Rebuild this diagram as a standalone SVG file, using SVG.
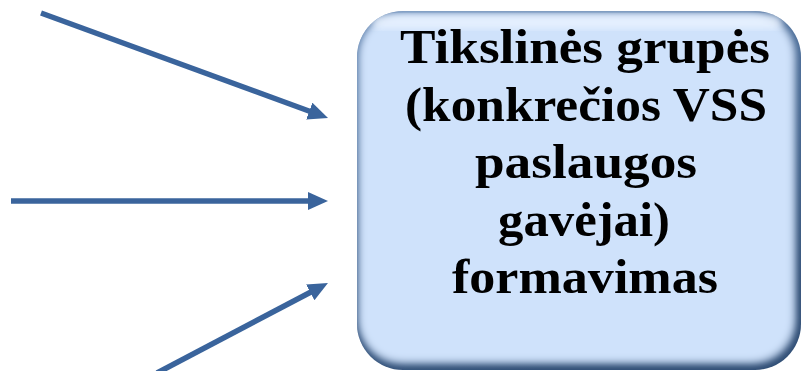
<svg xmlns="http://www.w3.org/2000/svg" width="802" height="371" viewBox="0 0 802 371">
  <style>
    .conn { stroke: #3a649c; stroke-width: 5.5; fill: none; }
    .label { font-family: "Liberation Serif", "DejaVu Serif", serif; font-weight: bold; font-size: 48px; fill: #000; text-anchor: middle; }
  </style>
  <defs>
    <!-- arrowhead: 20 long, 18 wide; line ends 16px before the tip -->
    <marker id="arrow" markerUnits="userSpaceOnUse" markerWidth="21" markerHeight="19" refX="4" refY="9" orient="auto">
      <path d="M0,0 L20,9 L0,18 Z" fill="#3a649c"/>
    </marker>
    <clipPath id="boxClip">
      <rect x="357" y="11" width="444" height="359" rx="46" ry="46"/>
    </clipPath>
    <filter id="soft" x="-10%" y="-10%" width="120%" height="120%">
      <feGaussianBlur stdDeviation="3.5"/>
    </filter>
    <linearGradient id="rim" x1="0" y1="0" x2="0.4" y2="1">
      <stop offset="0" stop-color="#5a7fae"/>
      <stop offset="1" stop-color="#2f4d74"/>
    </linearGradient>
  </defs>

  <g id="connectors">
    <line class="conn" x1="41" y1="13" x2="313" y2="112.5" marker-end="url(#arrow)"/>
    <line class="conn" x1="11" y1="201" x2="312" y2="201" marker-end="url(#arrow)"/>
    <line class="conn" x1="157" y1="373" x2="313.8" y2="290.5" marker-end="url(#arrow)"/>
  </g>

  <g id="target-group">
    <!-- bevelled rounded box: dark rim, soft inner face, top highlight -->
    <rect x="357" y="11" width="444" height="359" rx="46" ry="46" fill="url(#rim)"/>
    <g clip-path="url(#boxClip)">
      <rect x="359" y="13" width="437" height="351" rx="43" ry="43" fill="#8fa6c4" filter="url(#soft)"/>
      <rect x="360" y="14" width="433" height="347" rx="42" ry="42" fill="#cfe2fb" filter="url(#soft)"/>
      <rect x="372" y="15" width="410" height="14" rx="7" fill="#eef5ff" opacity="0.7" filter="url(#soft)"/>
    </g>
    <text class="label" x="585" y="63" textLength="370" lengthAdjust="spacingAndGlyphs">Tikslinės grupės</text>
    <text class="label" x="586" y="121" textLength="362" lengthAdjust="spacingAndGlyphs">(konkrečios VSS</text>
    <text class="label" x="586" y="178" textLength="222" lengthAdjust="spacingAndGlyphs">paslaugos</text>
    <text class="label" x="584" y="236" textLength="172" lengthAdjust="spacingAndGlyphs">gavėjai)</text>
    <text class="label" x="585" y="293" textLength="266" lengthAdjust="spacingAndGlyphs">formavimas</text>
  </g>
</svg>
